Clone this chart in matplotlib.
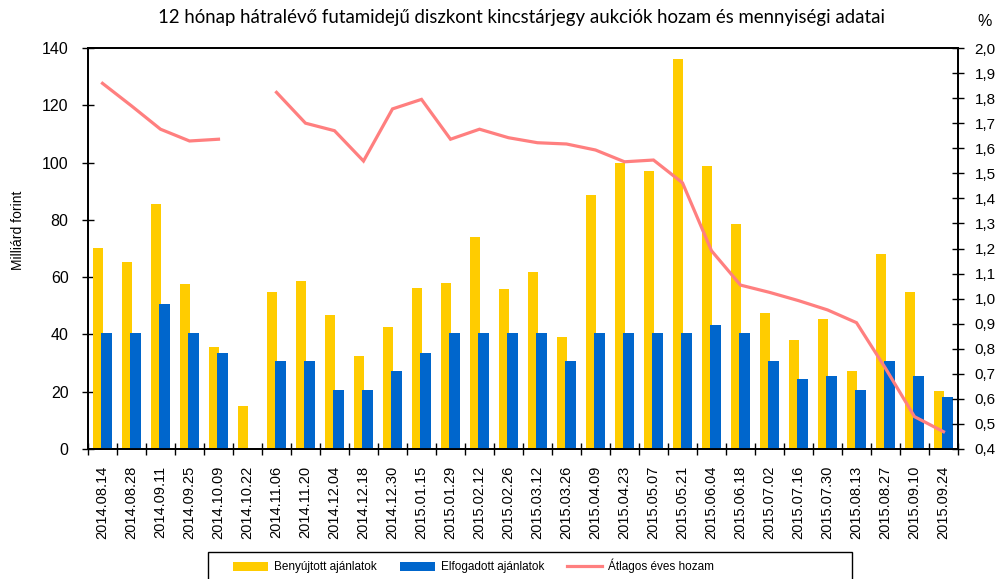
import matplotlib
matplotlib.use("Agg")
import matplotlib.pyplot as plt
from matplotlib.patches import Rectangle
import numpy as np

dates = ["2014.08.14", "2014.08.28", "2014.09.11", "2014.09.25", "2014.10.09", "2014.10.22",
         "2014.11.06", "2014.11.20", "2014.12.04", "2014.12.18", "2014.12.30", "2015.01.15",
         "2015.01.29", "2015.02.12", "2015.02.26", "2015.03.12", "2015.03.26", "2015.04.09",
         "2015.04.23", "2015.05.07", "2015.05.21", "2015.06.04", "2015.06.18", "2015.07.02",
         "2015.07.16", "2015.07.30", "2015.08.13", "2015.08.27", "2015.09.10", "2015.09.24"]

submitted = [70.3, 65.3, 85.4, 57.5, 35.7, 15.1, 54.7, 58.7, 46.8, 32.5, 42.5, 56.3,
             58.0, 74.1, 55.9, 61.9, 39.1, 88.7, 99.9, 97.1, 136.2, 98.7, 78.7, 47.5,
             38.0, 45.3, 27.2, 68.1, 54.7, 20.1]

accepted = [40.5, 40.5, 50.6, 40.5, 33.4, 0.0, 30.6, 30.6, 20.5, 20.5, 27.2, 33.4,
            40.5, 40.5, 40.5, 40.5, 30.6, 40.5, 40.5, 40.5, 40.5, 43.4, 40.5, 30.6,
            24.4, 25.5, 20.5, 30.6, 25.5, 18.3]

avg_yield = [1.859, 1.769, 1.676, 1.629, 1.636, np.nan, 1.823, 1.700, 1.670, 1.549,
             1.757, 1.795, 1.636, 1.676, 1.642, 1.622, 1.617, 1.593, 1.546, 1.553,
             1.462, 1.191, 1.054, 1.025, 0.992, 0.955, 0.904, 0.722, 0.529, 0.469]

title = "12 hónap hátralévő futamidejű diszkont kincstárjegy aukciók hozam és mennyiségi adatai"
legend_labels = ["Benyújtott ajánlatok", "Elfogadott ajánlatok", "Átlagos éves hozam"]

YELLOW = "#FFCC00"
BLUE = "#0066CC"
RED = "#FF7F7F"

plt.rcParams["font.family"] = ["Liberation Sans", "DejaVu Sans"]

fig = plt.figure(figsize=(10.01, 5.79), dpi=100)
ax = fig.add_axes([88 / 1001, 1 - 449 / 579, (958 - 88) / 1001, (449 - 48) / 579])
ax2 = ax.twinx()

x = np.arange(len(dates))
b1 = ax.bar(x - 0.145, submitted, width=0.34, color=YELLOW, zorder=2)
b2 = ax.bar(x + 0.13, accepted, width=0.37, color=BLUE, zorder=3)
l1, = ax2.plot(x, avg_yield, color=RED, lw=2.3, zorder=4, solid_joinstyle="miter")

ax.set_xlim(-0.5, len(dates) - 0.5)
ax.set_ylim(0, 140)
ax.set_yticks(np.arange(0, 141, 20))
ax.set_yticklabels([str(v) for v in range(0, 141, 20)], fontsize=11.5)
ax2.set_ylim(0.4, 2.0)
yt = np.round(np.arange(0.4, 2.001, 0.1), 1)
ax2.set_yticks(yt)
ax2.set_yticklabels([f"{v:.1f}".replace(".", ",") for v in yt], fontsize=11)

ax.set_xticks(x)
ax.set_xticklabels(dates, rotation=90, fontsize=10.5)
ax.set_xticks(np.arange(-0.5, len(dates), 1.0), minor=True)
ax.tick_params(axis="x", which="major", length=0, pad=12)
ax.tick_params(axis="x", which="minor", direction="inout", length=8, width=1)
ax.tick_params(axis="y", direction="inout", length=8, width=1, pad=10)
ax2.tick_params(axis="y", direction="inout", length=8, width=1, pad=8)

for a in (ax, ax2):
    for s in a.spines.values():
        s.set_linewidth(1.3)
        s.set_color("black")

fig.text(521 / 1001, 1 - 18 / 579, title, ha="center", va="center", fontsize=13.4,
         family=["Lato", "DejaVu Sans"])
fig.text(985 / 1001, 1 - 22 / 579, "%", ha="center", va="center", fontsize=11.5)
fig.text(18 / 1001, 1 - 230 / 579, "Milliárd forint", rotation=90, ha="center", va="center",
         fontsize=10)

leg = fig.legend([b1, b2, l1], legend_labels, ncol=3, loc="center left",
                 bbox_to_anchor=(233 / 1001, 1 - 566 / 579),
                 prop={"size": 8.5}, frameon=False,
                 handlelength=3.0, handleheight=0.8, borderaxespad=0, borderpad=0,
                 handletextpad=0.5, columnspacing=1.9)
fig.patches.append(Rectangle((208 / 1001, -0.02), (852 - 208) / 1001, 0.02 + 1 - 551.5 / 579,
                             transform=fig.transFigure, fill=False, edgecolor="black",
                             linewidth=1.0))

fig.savefig("out.png", dpi=100)
